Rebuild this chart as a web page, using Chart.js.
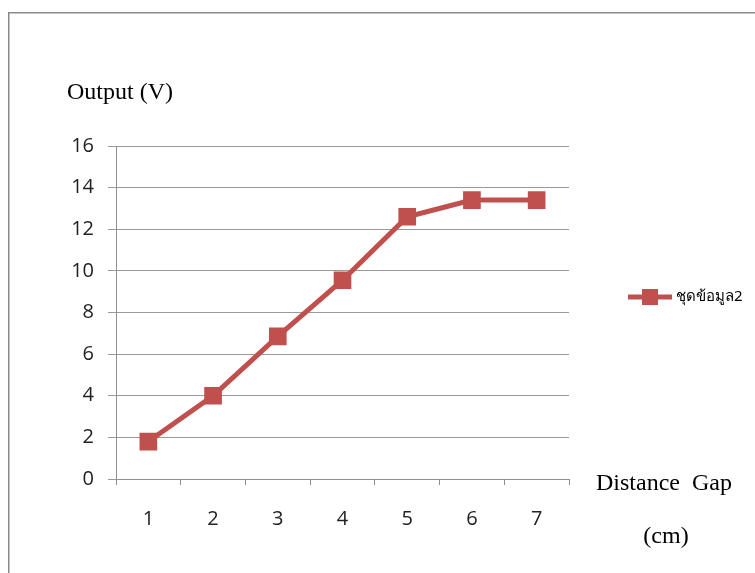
<!DOCTYPE html>
<html>
<head>
<meta charset="utf-8">
<script src="https://cdn.jsdelivr.net/npm/chart.js@4/dist/chart.umd.min.js"></script>
<style>
  html, body { margin: 0; padding: 0; background: #fff; }
  #wrap { position: relative; width: 755px; height: 573px; }
</style>
</head>
<body>
<div id="wrap"><canvas id="c" width="755" height="573"></canvas></div>
<script>
// Distance gap (cm) against measured output voltage
const distanceLabels = ['1', '2', '3', '4', '5', '6', '7'];
const outputVolts = [1.8, 4.0, 6.85, 9.55, 12.6, 13.4, 13.4];
const seriesName = 'ชุดข้อมูล2';
const yTitle = 'Output (V)';
const xTitleLines = ['Distance  Gap', '(cm)'];

const lineColor = '#C0504D';
const tickFont = { family: "'Open Sans', 'Liberation Sans', sans-serif", size: 20 };
const serifFont = "24px 'Liberation Serif', 'DejaVu Serif', serif";

// Frame, axis titles and legend drawn around the plot area
const decorations = {
  id: 'decorations',
  beforeDraw(chart) {
    const ctx = chart.ctx;
    ctx.save();
    ctx.fillStyle = '#fff';
    ctx.fillRect(0, 0, chart.width, chart.height);
    ctx.strokeStyle = '#8a8a8a';
    ctx.lineWidth = 1.5;
    ctx.beginPath();
    ctx.moveTo(8.75, chart.height + 2);
    ctx.lineTo(8.75, 12.75);
    ctx.lineTo(chart.width + 2, 12.75);
    ctx.stroke();
    ctx.restore();
  },
  afterDraw(chart) {
    const ctx = chart.ctx;
    const area = chart.chartArea;
    ctx.save();
    ctx.fillStyle = '#000';
    ctx.font = serifFont;
    ctx.textBaseline = 'middle';
    ctx.textAlign = 'left';
    ctx.fillText(yTitle, 67, 93);
    ctx.fillText(xTitleLines[0], area.right + 27, 484);
    ctx.textAlign = 'center';
    ctx.fillText(xTitleLines[1], area.right + 97, 537);

    // legend entry
    const ds = chart.data.datasets[0];
    const ly = 297;
    ctx.strokeStyle = ds.borderColor;
    ctx.lineWidth = ds.borderWidth;
    ctx.beginPath();
    ctx.moveTo(628, ly);
    ctx.lineTo(672, ly);
    ctx.stroke();
    ctx.fillStyle = ds.pointBackgroundColor;
    ctx.fillRect(642, ly - 8, 16, 16);
    ctx.fillStyle = '#000';
    ctx.font = "15px 'Noto Sans', 'DejaVu Sans', sans-serif";
    ctx.textAlign = 'left';
    ctx.fillText(ds.label, 676, ly);
    ctx.restore();
  }
};

new Chart(document.getElementById('c'), {
  type: 'line',
  data: {
    labels: distanceLabels,
    datasets: [{
      label: seriesName,
      data: outputVolts,
      borderColor: lineColor,
      backgroundColor: lineColor,
      pointBackgroundColor: lineColor,
      pointBorderColor: lineColor,
      borderWidth: 5,
      pointStyle: 'rect',
      pointRadius: 12.5,
      pointBorderWidth: 0,
      tension: 0
    }]
  },
  options: {
    responsive: false,
    animation: false,
    devicePixelRatio: 1,
    layout: { padding: { left: 0, right: 186, top: 146, bottom: 0 } },
    plugins: {
      legend: { display: false },
      tooltip: { enabled: false }
    },
    scales: {
      x: {
        type: 'category',
        offset: true,
        grid: {
          offset: true,
          drawOnChartArea: false,
          drawTicks: true,
          tickLength: 6,
          color: '#8f8f8f'
        },
        border: { display: true, color: '#8f8f8f', width: 1 },
        ticks: { font: tickFont, color: '#222', padding: 22, maxRotation: 0 },
        afterFit(scale) { scale.height = 94; }
      },
      y: {
        min: 0,
        max: 16,
        ticks: { stepSize: 2, font: tickFont, color: '#222', padding: 14 },
        grid: { color: '#9a9a9a', tickLength: 8, lineWidth: 1 },
        border: { display: true, color: '#8f8f8f', width: 1 },
        afterFit(scale) { scale.width = 116; }
      }
    }
  },
  plugins: [decorations]
});
</script>
</body>
</html>
